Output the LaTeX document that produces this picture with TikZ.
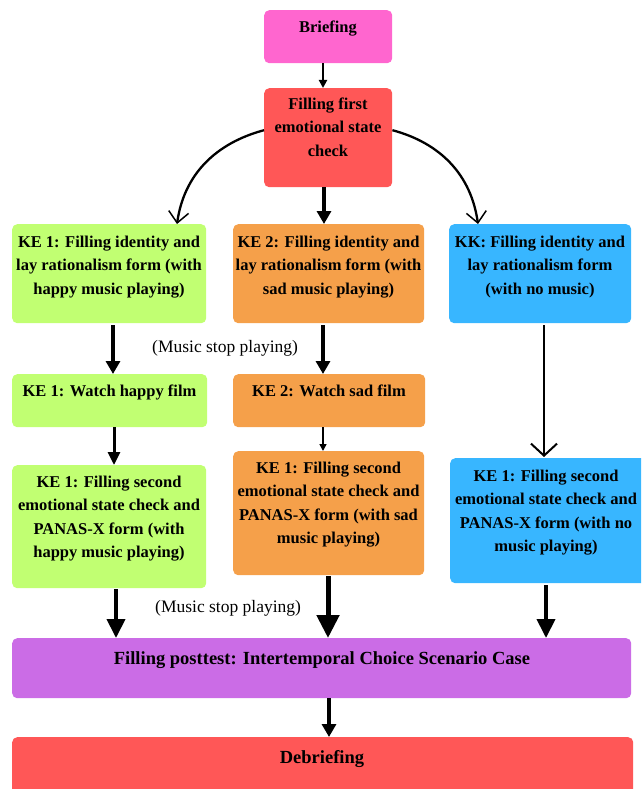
\documentclass[tikz,border=0pt]{standalone}
\usepackage{fontspec}
\setmainfont{Liberation Serif}
\usetikzlibrary{arrows.meta}
\definecolor{cpink}{HTML}{FF66CF}
\definecolor{cred}{HTML}{FF5757}
\definecolor{cgreen}{HTML}{C1FF72}
\definecolor{corange}{HTML}{F5A04A}
\definecolor{cblue}{HTML}{38B6FF}
\definecolor{cpurple}{HTML}{CB6CE6}
\begin{document}
\begin{tikzpicture}[x=1pt,y=-1pt,
  box/.style={rectangle, rounded corners=5pt, draw=none, anchor=north west, inner sep=0pt},
  txt/.style={anchor=north, align=center, inner sep=0pt, font=\bfseries\fontsize{16.5}{23.5}\selectfont},
  bigtxt/.style={anchor=north, align=center, inner sep=0pt, font=\bfseries\fontsize{18.5}{24}\selectfont},
  note/.style={anchor=base west, inner sep=0pt, font=\fontsize{17.5}{20}\selectfont},
  thinarr/.style={line width=2pt, -{Triangle[length=8pt,width=8pt]}},
  midarr/.style={line width=3.2pt, -{Triangle[length=13pt,width=14pt]}},
  bigarr/.style={line width=4pt, -{Triangle[length=19pt,width=18pt]}},
  hugearr/.style={line width=5pt, -{Triangle[length=23pt,width=22pt]}},
  barbarr/.style={line width=2.3pt, -{Straight Barb[length=11pt,width=20pt,line width=1.5pt]}},
  openarr/.style={line width=2pt, -{Straight Barb[length=12pt,width=26pt,line width=2pt]}}
]
\useasboundingbox (0,0) rectangle (641,789);
\clip (0,0) rectangle (641,789);

% boxes
\node[box, fill=cpink, minimum width=128pt, minimum height=53pt] (br) at (264,10) {};
\node[box, fill=cred, minimum width=128pt, minimum height=99pt] (fe) at (264,88) {};
\node[box, fill=cgreen, minimum width=194pt, minimum height=99pt] (g1) at (12,224) {};
\node[box, fill=corange, minimum width=191pt, minimum height=99pt] (o1) at (233,224) {};
\node[box, fill=cblue, minimum width=182pt, minimum height=99pt] (b1) at (449,224) {};
\node[box, fill=cgreen, minimum width=195pt, minimum height=53pt] (gw) at (12,374) {};
\node[box, fill=corange, minimum width=192pt, minimum height=53pt] (ow) at (233,374) {};
\node[box, fill=cgreen, minimum width=194pt, minimum height=123pt] (g3) at (12,465) {};
\node[box, fill=corange, minimum width=191pt, minimum height=124pt] (o3) at (233,451) {};
\node[box, fill=cblue, minimum width=200pt, minimum height=125pt] (b3) at (450,458) {};
\node[box, fill=cpurple, minimum width=619pt, minimum height=60pt] (pt) at (12,638) {};
\node[box, fill=cred, minimum width=621pt, minimum height=70pt] (db) at (12,737) {};

% texts
\node[txt] (brt) at (328,20.5) {Briefing};
\node[txt] (fet) at (328,97.5) {Filling first\\emotional state\\check};
\node[txt] (g1t) at (109,235.5) {KE 1: Filling identity and\\lay rationalism form (with\\happy music playing)};
\node[txt] (o1t) at (328.5,235.5) {KE 2: Filling identity and\\lay rationalism form (with\\sad music playing)};
\node[txt] (b1t) at (540,235.5) {KK: Filling identity and\\lay rationalism form\\(with no music)};
\node[txt] (gwt) at (109.5,384.5) {KE 1: Watch happy film};
\node[txt] (owt) at (329,384.5) {KE 2: Watch sad film};
\node[txt] (g3t) at (109,475.5) {KE 1: Filling second\\emotional state check and\\PANAS-X form (with\\happy music playing)};
\node[txt] (o3t) at (328.5,461.5) {KE 1: Filling second\\emotional state check and\\PANAS-X form (with sad\\music playing)};
\node[txt] (b3t) at (546,469.5) {KE 1: Filling second\\emotional state check and\\PANAS-X form (with no\\music playing)};
\node[bigtxt] (ptt) at (322,651) {Filling posttest: Intertemporal Choice Scenario Case};
\node[bigtxt] (dbt) at (322,750) {Debriefing};
\node[note] (m1) at (152,352) {(Music stop playing)};
\node[note] (m2) at (155,612.5) {(Music stop playing)};

% connectors
\draw[thinarr] (323,0 |- br.south) -- (323,0 |- fe.north);
\draw[barbarr] ([yshift=7.5pt]fe.west) to[out=195,in=82] (177,0 |- g1.north);
\draw[barbarr] ([yshift=7.5pt]fe.east) to[out=-15,in=98] (478,0 |- b1.north);
\draw[midarr] (324,0 |- fe.south) -- (324,0 |- o1.north);
\draw[midarr] ([yshift=-2pt]113,0 |- g1.south) -- (113,0 |- gw.north);
\draw[midarr] ([yshift=-2pt]323,0 |- o1.south) -- (323,0 |- ow.north);
\draw[openarr] ([yshift=-2pt]544,0 |- b1.south) -- ([yshift=1pt]544,0 |- b3.north);
\draw[line width=3pt, -{Triangle[length=13pt,width=12pt]}] (114,0 |- gw.south) -- (114,0 |- g3.north);
\draw[line width=1.5pt, -{Triangle[length=7pt,width=7pt]}] (323,0 |- ow.south) -- (323,0 |- o3.north);
\draw[bigarr] ([yshift=-1pt]116,0 |- g3.south) -- (116,0 |- pt.north);
\draw[hugearr] ([yshift=-1pt]328,0 |- o3.south) -- (328,0 |- pt.north);
\draw[bigarr] ([yshift=-2pt]546,0 |- b3.south) -- (546,0 |- pt.north);
\draw[midarr] (329,0 |- pt.south) -- (329,0 |- db.north);
\end{tikzpicture}
\end{document}
